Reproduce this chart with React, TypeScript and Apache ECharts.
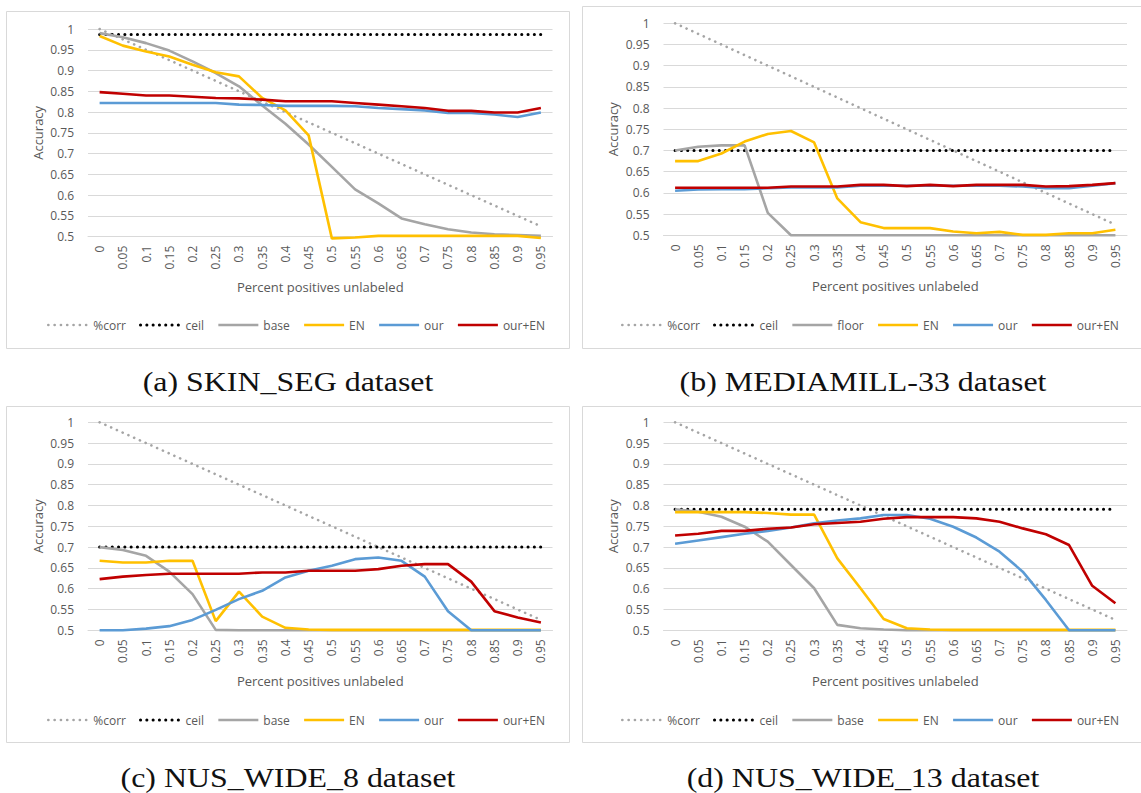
import React, { useEffect, useRef } from "react";
import * as echarts from "echarts";

// x-axis categories: fraction of positives left unlabeled
const categories = [
  "0", "0.05", "0.1", "0.15", "0.2", "0.25", "0.3", "0.35", "0.4", "0.45",
  "0.5", "0.55", "0.6", "0.65", "0.7", "0.75", "0.8", "0.85", "0.9", "0.95",
];
const yTicks = { min: 0.5, max: 1, step: 0.05 };

// share of labels that are correct (same in every panel)
const corrValues = [
  1, 0.975, 0.95, 0.925, 0.9, 0.875, 0.85, 0.825, 0.8, 0.775,
  0.75, 0.725, 0.7, 0.675, 0.65, 0.625, 0.6, 0.575, 0.55, 0.525,
];

// (a) SKIN_SEG
const skinCeil = [
  0.987, 0.987, 0.987, 0.987, 0.987, 0.987, 0.987, 0.987, 0.987, 0.987,
  0.987, 0.987, 0.987, 0.987, 0.987, 0.987, 0.987, 0.987, 0.987, 0.987,
];
const skinBase = [
  0.99, 0.98, 0.966, 0.948, 0.922, 0.894, 0.862, 0.816, 0.772, 0.722,
  0.668, 0.614, 0.58, 0.544, 0.53, 0.518, 0.51, 0.506, 0.504, 0.502,
];
const skinEN = [
  0.983, 0.96, 0.946, 0.934, 0.914, 0.896, 0.886, 0.834, 0.804, 0.744,
  0.496, 0.498, 0.502, 0.502, 0.502, 0.502, 0.502, 0.502, 0.502, 0.497,
];
const skinOur = [
  0.822, 0.822, 0.822, 0.822, 0.822, 0.822, 0.818, 0.817, 0.815, 0.815,
  0.815, 0.814, 0.81, 0.807, 0.804, 0.798, 0.798, 0.794, 0.788, 0.799,
];
const skinOurEN = [
  0.848, 0.844, 0.84, 0.84, 0.837, 0.834, 0.833, 0.83, 0.826, 0.826,
  0.826, 0.822, 0.818, 0.814, 0.81, 0.803, 0.803, 0.799, 0.799, 0.81,
];

// (b) MEDIAMILL-33
const millCeil = [
  0.7, 0.7, 0.7, 0.7, 0.7, 0.7, 0.7, 0.7, 0.7, 0.7,
  0.7, 0.7, 0.7, 0.7, 0.7, 0.7, 0.7, 0.7, 0.7, 0.7,
];
const millFloor = [
  0.7, 0.709, 0.712, 0.712, 0.553, 0.5, 0.5, 0.5, 0.5, 0.5,
  0.5, 0.5, 0.5, 0.5, 0.5, 0.5, 0.5, 0.5, 0.5, 0.5,
];
const millEN = [
  0.675, 0.675, 0.693, 0.721, 0.739, 0.746, 0.719, 0.587, 0.531, 0.517,
  0.517, 0.517, 0.509, 0.505, 0.508, 0.501, 0.501, 0.505, 0.505, 0.513,
];
const millOur = [
  0.605, 0.608, 0.609, 0.609, 0.611, 0.613, 0.613, 0.613, 0.617, 0.617,
  0.617, 0.617, 0.617, 0.617, 0.617, 0.615, 0.611, 0.611, 0.617, 0.623,
];
const millOurEN = [
  0.612, 0.612, 0.612, 0.612, 0.612, 0.615, 0.615, 0.615, 0.619, 0.619,
  0.616, 0.619, 0.616, 0.619, 0.619, 0.619, 0.615, 0.616, 0.619, 0.623,
];

// (c) NUS_WIDE_8
const nus8Ceil = [
  0.7, 0.7, 0.7, 0.7, 0.7, 0.7, 0.7, 0.7, 0.7, 0.7,
  0.7, 0.7, 0.7, 0.7, 0.7, 0.7, 0.7, 0.7, 0.7, 0.7,
];
const nus8Base = [
  0.7, 0.693, 0.679, 0.641, 0.587, 0.501, 0.5, 0.5, 0.5, 0.5,
  0.5, 0.5, 0.5, 0.5, 0.5, 0.5, 0.5, 0.5, 0.5, 0.5,
];
const nus8EN = [
  0.667, 0.663, 0.663, 0.667, 0.667, 0.522, 0.593, 0.533, 0.506, 0.502,
  0.501, 0.501, 0.501, 0.501, 0.501, 0.501, 0.501, 0.501, 0.501, 0.501,
];
const nus8Our = [
  0.5, 0.5, 0.504, 0.51, 0.525, 0.549, 0.575, 0.595, 0.627, 0.643,
  0.655, 0.671, 0.675, 0.667, 0.629, 0.546, 0.5, 0.5, 0.5, 0.5,
];
const nus8OurEN = [
  0.623, 0.629, 0.633, 0.636, 0.636, 0.636, 0.636, 0.639, 0.639, 0.643,
  0.643, 0.643, 0.647, 0.655, 0.659, 0.659, 0.617, 0.546, 0.531, 0.519,
];

// (d) NUS_WIDE_13
const nus13Ceil = [
  0.791, 0.791, 0.791, 0.791, 0.791, 0.791, 0.791, 0.791, 0.791, 0.791,
  0.791, 0.791, 0.791, 0.791, 0.791, 0.791, 0.791, 0.791, 0.791, 0.791,
];
const nus13Base = [
  0.791, 0.785, 0.773, 0.749, 0.713, 0.657, 0.601, 0.513, 0.505, 0.502,
  0.5, 0.5, 0.5, 0.5, 0.5, 0.5, 0.5, 0.5, 0.5, 0.5,
];
const nus13EN = [
  0.784, 0.784, 0.784, 0.784, 0.782, 0.778, 0.778, 0.673, 0.601, 0.527,
  0.505, 0.502, 0.501, 0.501, 0.501, 0.501, 0.501, 0.501, 0.501, 0.501,
];
const nus13Our = [
  0.708, 0.716, 0.724, 0.732, 0.739, 0.747, 0.757, 0.764, 0.769, 0.777,
  0.777, 0.768, 0.749, 0.723, 0.689, 0.641, 0.573, 0.5, 0.5, 0.5,
];
const nus13OurEN = [
  0.728, 0.732, 0.739, 0.739, 0.744, 0.747, 0.755, 0.758, 0.761, 0.768,
  0.772, 0.772, 0.772, 0.769, 0.761, 0.745, 0.731, 0.705, 0.607, 0.565,
];

const COLORS = {
  corr: "#A5A5A5",
  ceil: "#000000",
  base: "#A5A5A5",
  en: "#FFC000",
  our: "#5B9BD5",
  ourEN: "#C00000",
  grid: "#D9D9D9",
  text: "#595959",
};
const FONT = "'Open Sans', 'Liberation Sans', sans-serif";

interface Panel {
  caption: string;
  baseName: string;
  ceil: number[];
  base: number[];
  en: number[];
  our: number[];
  ourEN: number[];
  box: { x: number; y: number; w: number; h: number };
  plot: { left: number; top: number; width: number; height: number };
  legend: { left: number; top: number };
  captionPos: { x: number; y: number };
}

const panels: Panel[] = [
  {
    caption: "(a) SKIN_SEG dataset",
    baseName: "base",
    ceil: skinCeil, base: skinBase, en: skinEN, our: skinOur, ourEN: skinOurEN,
    box: { x: 6.5, y: 11.5, w: 563, h: 337 },
    plot: { left: 88, top: 29, width: 464.5, height: 207.7 },
    legend: { left: 47, top: 319 },
    captionPos: { x: 288, y: 381 },
  },
  {
    caption: "(b) MEDIAMILL-33 dataset",
    baseName: "floor",
    ceil: millCeil, base: millFloor, en: millEN, our: millOur, ourEN: millOurEN,
    box: { x: 582.5, y: 6.5, w: 565, h: 342 },
    plot: { left: 663.5, top: 23.3, width: 463.5, height: 212 },
    legend: { left: 621, top: 319 },
    captionPos: { x: 863, y: 381 },
  },
  {
    caption: "(c) NUS_WIDE_8 dataset",
    baseName: "base",
    ceil: nus8Ceil, base: nus8Base, en: nus8EN, our: nus8Our, ourEN: nus8OurEN,
    box: { x: 6.5, y: 406.5, w: 563, h: 336 },
    plot: { left: 88, top: 422.3, width: 464.5, height: 208 },
    legend: { left: 47, top: 714 },
    captionPos: { x: 288, y: 777 },
  },
  {
    caption: "(d) NUS_WIDE_13 dataset",
    baseName: "base",
    ceil: nus13Ceil, base: nus13Base, en: nus13EN, our: nus13Our, ourEN: nus13OurEN,
    box: { x: 582.5, y: 406.5, w: 565, h: 336 },
    plot: { left: 663.5, top: 422.3, width: 463.5, height: 208 },
    legend: { left: 621, top: 714 },
    captionPos: { x: 863, y: 777 },
  },
];

const dotted = (color: string, width: number) => ({
  color,
  width,
  type: [0.1, 6.2] as number[],
  cap: "round" as const,
});
const solid = (color: string) => ({ color, width: 2.6, type: "solid" as const });

function buildOption() {
  const grid: any[] = [];
  const xAxis: any[] = [];
  const yAxis: any[] = [];
  const legend: any[] = [];
  const series: any[] = [];
  const graphic: any[] = [];

  panels.forEach((p, i) => {
    graphic.push({
      type: "rect",
      z: -10,
      shape: { x: p.box.x, y: p.box.y, width: p.box.w, height: p.box.h },
      style: { fill: "#ffffff", stroke: COLORS.grid, lineWidth: 1 },
    });
    graphic.push({
      type: "text",
      x: p.captionPos.x,
      y: p.captionPos.y,
      scaleX: 1.14,
      style: {
        text: p.caption,
        fill: "#111111",
        font: "28px 'Liberation Serif', 'Times New Roman', serif",
        textAlign: "center",
        textVerticalAlign: "middle",
      },
    });

    grid.push({ ...p.plot, containLabel: false });
    xAxis.push({
      type: "category",
      gridIndex: i,
      data: categories,
      axisLine: { show: true, lineStyle: { color: COLORS.grid, width: 1 } },
      axisTick: { show: false },
      axisLabel: {
        rotate: 90,
        interval: 0,
        margin: 9,
        color: COLORS.text,
        fontSize: 12,
        fontFamily: FONT,
      },
      name: "Percent positives unlabeled",
      nameLocation: "middle",
      nameGap: 44,
      nameTextStyle: { color: COLORS.text, fontSize: 13, fontFamily: FONT },
    });
    yAxis.push({
      type: "value",
      gridIndex: i,
      min: yTicks.min,
      max: yTicks.max,
      interval: yTicks.step,
      axisLine: { show: false },
      axisTick: { show: false },
      splitLine: { lineStyle: { color: COLORS.grid, width: 1 } },
      axisLabel: {
        margin: 14,
        color: COLORS.text,
        fontSize: 12,
        fontFamily: FONT,
      },
      name: "Accuracy",
      nameLocation: "middle",
      nameGap: 44,
      nameRotate: 90,
      nameTextStyle: { color: COLORS.text, fontSize: 13, fontFamily: FONT },
    });

    const common = {
      type: "line",
      xAxisIndex: i,
      yAxisIndex: i,
      symbol: "none",
      clip: false,
      smooth: false,
    };
    const line = (name: string, data: number[], color: string, lineStyle: any) => ({
      ...common,
      name,
      data,
      color,
      itemStyle: { color },
      lineStyle,
    });
    series.push(
      line("%corr", corrValues, COLORS.corr, dotted(COLORS.corr, 2.6)),
      line("ceil", p.ceil, COLORS.ceil, dotted(COLORS.ceil, 3)),
      line(p.baseName, p.base, COLORS.base, solid(COLORS.base)),
      line("EN", p.en, COLORS.en, solid(COLORS.en)),
      line("our", p.our, COLORS.our, solid(COLORS.our)),
      line("our+EN", p.ourEN, COLORS.ourEN, solid(COLORS.ourEN))
    );

    const entry = (name: string, lineStyle: any) => ({
      name,
      lineStyle,
      itemStyle: { opacity: 0 },
    });
    legend.push({
      left: p.legend.left,
      top: p.legend.top,
      padding: 0,
      itemWidth: 40,
      itemHeight: 14,
      itemGap: 13,
      selectedMode: false,
      itemStyle: { opacity: 0 },
      textStyle: { color: COLORS.text, fontSize: 12, fontFamily: FONT },
      data: [
        entry("%corr", dotted(COLORS.corr, 2.6)),
        entry("ceil", dotted(COLORS.ceil, 3)),
        entry(p.baseName, solid(COLORS.base)),
        entry("EN", solid(COLORS.en)),
        entry("our", solid(COLORS.our)),
        entry("our+EN", solid(COLORS.ourEN)),
      ],
    });
  });

  return {
    animation: false,
    backgroundColor: "#ffffff",
    grid,
    xAxis,
    yAxis,
    legend,
    series,
    graphic,
  };
}

export default function App() {
  const ref = useRef<HTMLDivElement | null>(null);

  useEffect(() => {
    if (!ref.current) return;
    const chart = echarts.init(ref.current, undefined, { renderer: "svg" });
    chart.setOption(buildOption() as any);
    return () => chart.dispose();
  }, []);

  return (
    <div
      ref={ref}
      style={{ position: "fixed", left: 0, top: 0, width: 1141, height: 793, background: "#fff" }}
    />
  );
}
